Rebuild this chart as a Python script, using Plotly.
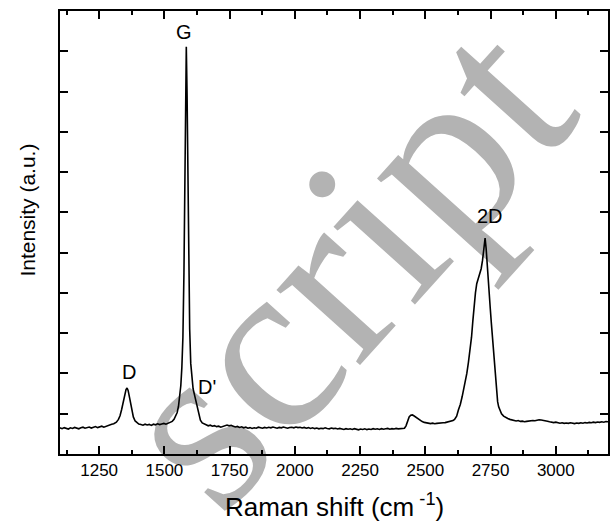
import plotly.graph_objects as go

# Raman shift (cm^-1)
shift = [1100, 1108, 1116, 1124, 1132, 1140, 1148, 1156, 1164, 1172, 1180, 1188, 1196, 1204, 1212, 1220, 1228, 1236, 1244, 1252,
         1260, 1268, 1276, 1284, 1290, 1298, 1306, 1316, 1324, 1330, 1336, 1342, 1348, 1353, 1357, 1361, 1366, 1371, 1376, 1381,
         1388, 1395, 1402, 1410, 1418, 1426, 1434, 1442, 1450, 1458, 1466, 1474, 1482, 1490, 1498, 1506, 1514, 1522, 1530, 1537,
         1543, 1549, 1554, 1559, 1563, 1567, 1571, 1575, 1578, 1581, 1584, 1587, 1590, 1593, 1597, 1601, 1605, 1610, 1615, 1620,
         1625, 1629, 1633, 1638, 1645, 1652, 1660, 1668, 1676, 1684, 1692, 1700, 1708, 1716, 1724, 1732, 1740, 1748, 1756, 1764,
         1772, 1780, 1788, 1796, 1804, 1812, 1820, 1828, 1836, 1844, 1852, 1860, 1868, 1876, 1884, 1892, 1900, 1908, 1916, 1924,
         1932, 1940, 1948, 1956, 1964, 1972, 1980, 1988, 1996, 2004, 2012, 2020, 2028, 2036, 2044, 2052, 2060, 2068, 2076, 2084,
         2092, 2100, 2108, 2116, 2124, 2132, 2140, 2148, 2156, 2164, 2172, 2180, 2188, 2196, 2204, 2212, 2220, 2228, 2236, 2244,
         2252, 2260, 2268, 2276, 2284, 2292, 2300, 2308, 2316, 2324, 2332, 2340, 2348, 2356, 2364, 2372, 2380, 2388, 2396, 2404,
         2412, 2420, 2426, 2432, 2438, 2444, 2450, 2456, 2464, 2472, 2480, 2488, 2496, 2504, 2512, 2520, 2528, 2536, 2544, 2552,
         2560, 2568, 2576, 2584, 2592, 2600, 2606, 2612, 2620, 2627, 2634, 2641, 2647, 2653, 2659, 2665, 2671, 2677, 2682, 2687,
         2692, 2697, 2703, 2709, 2714, 2719, 2724, 2729, 2733, 2737, 2741, 2745, 2749, 2753, 2757, 2761, 2765, 2769, 2773, 2777,
         2781, 2786, 2792, 2800, 2808, 2816, 2824, 2832, 2840, 2848, 2856, 2864, 2872, 2880, 2888, 2896, 2904, 2912, 2920, 2928,
         2936, 2944, 2952, 2960, 2968, 2976, 2984, 2992, 3000, 3008, 3016, 3024, 3032, 3040, 3048, 3056, 3064, 3072, 3080, 3088,
         3096, 3104, 3112, 3120, 3128, 3136, 3144, 3152, 3160, 3168, 3176, 3184, 3192, 3200]

# Intensity (a.u.)
intensity = [650, 630, 655, 640, 620, 650, 635, 660, 640, 625, 650, 665, 640, 655, 670, 645, 660, 680, 655, 670,
             690, 665, 690, 705, 720, 740, 750, 790, 860, 950, 1100, 1280, 1470, 1600, 1640, 1580, 1420, 1240, 1060, 920,
             820, 770, 745, 730, 715, 740, 720, 735, 710, 740, 725, 750, 730, 745, 760, 740, 765, 780, 810, 860,
             930, 1030, 1180, 1400, 1700, 2150, 2900, 4500, 6300, 8500, 10110, 8900, 6700, 4800, 3100, 2250, 1850, 1620, 1480, 1340,
             1230, 1150, 960, 840, 770, 740, 725, 700, 715, 690, 705, 680, 690, 665, 690, 700, 720, 700, 710, 690,
             670, 685, 660, 675, 650, 665, 640, 655, 635, 650, 640, 665, 650, 640, 660, 645, 665, 650, 670, 655,
             640, 660, 650, 670, 655, 640, 660, 665, 650, 670, 655, 665, 645, 660, 640, 655, 635, 650, 630, 645,
             625, 640, 630, 650, 635, 625, 645, 630, 640, 620, 635, 625, 610, 630, 615, 625, 610, 630, 615, 600,
             620, 610, 625, 605, 620, 610, 630, 615, 625, 610, 630, 615, 625, 635, 615, 630, 620, 635, 625, 630,
             625, 640, 700, 820, 920, 965, 970, 950, 910, 870, 835, 805, 785, 770, 760, 755, 765, 750, 760, 770,
             765, 775, 780, 790, 800, 810, 830, 860, 940, 1100, 1230, 1420, 1600, 1780, 2000, 2270, 2580, 2900, 3300, 3700,
             4000, 4230, 4350, 4460, 4600, 4800, 5100, 5360, 5100, 4650, 4300, 3950, 3600, 3250, 2900, 2550, 2180, 1800, 1500, 1300,
             1170, 1080, 1000, 940, 900, 880, 860, 845, 835, 820, 830, 810, 815, 800, 810, 820, 815, 830, 825, 840,
             850, 845, 840, 830, 815, 800, 790, 780, 790, 775, 765, 775, 760, 770, 760, 775, 765, 755, 770, 760,
             775, 765, 780, 770, 785, 775, 790, 780, 795, 785, 800, 790, 805, 800]

# Peak labels
peak_names = ["D", "G", "D'", "2D"]
peak_x = [1365, 1577, 1665, 2746]
peak_y = [2024, 10486, 1671, 5915]

x_tickvals = [1250, 1500, 1750, 2000, 2250, 2500, 2750, 3000]

fig = go.Figure()
fig.add_trace(go.Scatter(x=shift, y=intensity, mode="lines",
                         line=dict(color="black", width=1.6), showlegend=False, hoverinfo="skip"))

for name, px, py in zip(peak_names, peak_x, peak_y):
    fig.add_annotation(x=px, y=py, text=name, showarrow=False,
                       font=dict(family="Liberation Sans, Arial", size=20, color="black"),
                       xanchor="center", yanchor="middle")

# axis titles
fig.add_annotation(xref="paper", yref="paper", x=(336 - 60) / 550, y=-(505 - 454) / 443,
                   text="Raman shift (cm<sup> -1</sup>)", showarrow=False,
                   font=dict(family="Liberation Sans, Arial", size=26, color="black"),
                   xanchor="center", yanchor="middle")
fig.add_annotation(xref="paper", yref="paper", x=(27 - 60) / 550, y=(454 - 210.5) / 443,
                   text="Intensity (a.u.)", showarrow=False, textangle=-90,
                   font=dict(family="Liberation Sans, Arial", size=21, color="black"),
                   xanchor="center", yanchor="middle")

# watermark (behind the data)
wx, wy = 322, 245
fig.add_shape(type="rect", xref="paper", yref="paper",
              x0=(wx - 60) / 550 - 0.05, x1=(wx - 60) / 550 + 0.05,
              y0=(454 - wy) / 443 - 0.05, y1=(454 - wy) / 443 + 0.05,
              line=dict(width=0), fillcolor="rgba(0,0,0,0)", layer="below",
              label=dict(text="script", textangle=-48, textposition="middle center",
                         font=dict(family="Liberation Serif, Times New Roman", size=245, color="#b3b3b3")))

axis_common = dict(showline=True, linecolor="black", linewidth=2, mirror="allticks",
                   ticks="inside", tickcolor="black", tickwidth=1.5, ticklen=8,
                   showgrid=False, zeroline=False)

fig.update_xaxes(range=[1100, 3200], tickmode="array", tickvals=x_tickvals,
                 tickfont=dict(family="Liberation Sans, Arial", size=17, color="black"),
                 minor=dict(ticks="inside", ticklen=4, tickwidth=1.5, tickcolor="black", dtick=125, tick0=1125),
                 **axis_common)
fig.update_yaxes(range=[0, 11000], dtick=1000, tick0=0, showticklabels=False, **axis_common)

fig.update_layout(width=611, height=525, margin=dict(l=60, r=1, t=11, b=71),
                  plot_bgcolor="white", paper_bgcolor="white")

fig.write_html("out.html", config={"displayModeBar": False},
               post_script="document.body.style.margin='0';document.body.style.padding='0';")
